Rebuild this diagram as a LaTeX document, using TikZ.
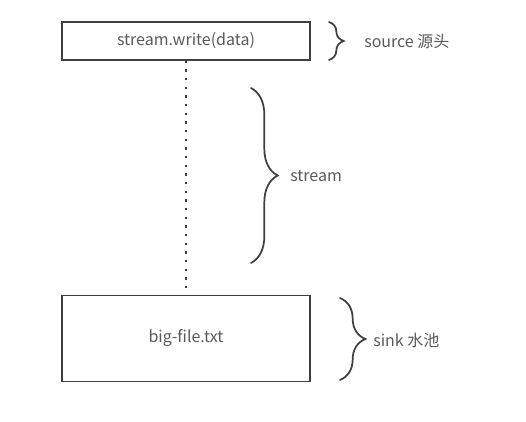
\documentclass[tikz,border=0pt]{standalone}
\usepackage{fontspec}
\setmainfont{Noto Sans CJK SC}
\usepackage{xcolor}
\usetikzlibrary{decorations.pathreplacing, math}
\definecolor{linegray}{HTML}{3F3F3F}
\definecolor{textgray}{HTML}{595959}

\begin{document}
\begin{tikzpicture}[x=0.75pt, y=-0.75pt,
  box/.style={draw=linegray, line width=1.2pt, text=textgray, font=\fontsize{12}{14}\selectfont},
  curly/.style={draw=linegray, line width=1.3pt, line cap=round, decorate, decoration={brace, amplitude=#1}},
  note/.style={text=textgray, anchor=west, inner sep=0pt, font=\fontsize{12}{14}\selectfont}]
\tikzmath{
\cx=186;
}
\useasboundingbox (0,0) rectangle (526,422);

\node[box, minimum width=248*0.75pt, minimum height=38*0.75pt] (source) at (\cx,41) {stream.write(data)};
\node[box, minimum width=248*0.75pt, minimum height=86*0.75pt] (sink) at (\cx,338.5) {big-file.txt};

\draw[linegray, line width=1.6pt, dash pattern=on 1.6pt off 4.9pt] (source.south) -- (sink.north);

% braces
\draw[curly=11pt] (329,22) -- (329,60);
\node[note] (sourcelbl) at (364,41) {source 源头};

\draw[curly=20pt] (251,88) -- (251,263);
\node[note] (streamlbl) at (290,176) {stream};

\draw[curly=19pt] (340,298) -- (340,380);
\node[note] (sinklbl) at (373,340) {sink 水池};

\end{tikzpicture}
\end{document}
